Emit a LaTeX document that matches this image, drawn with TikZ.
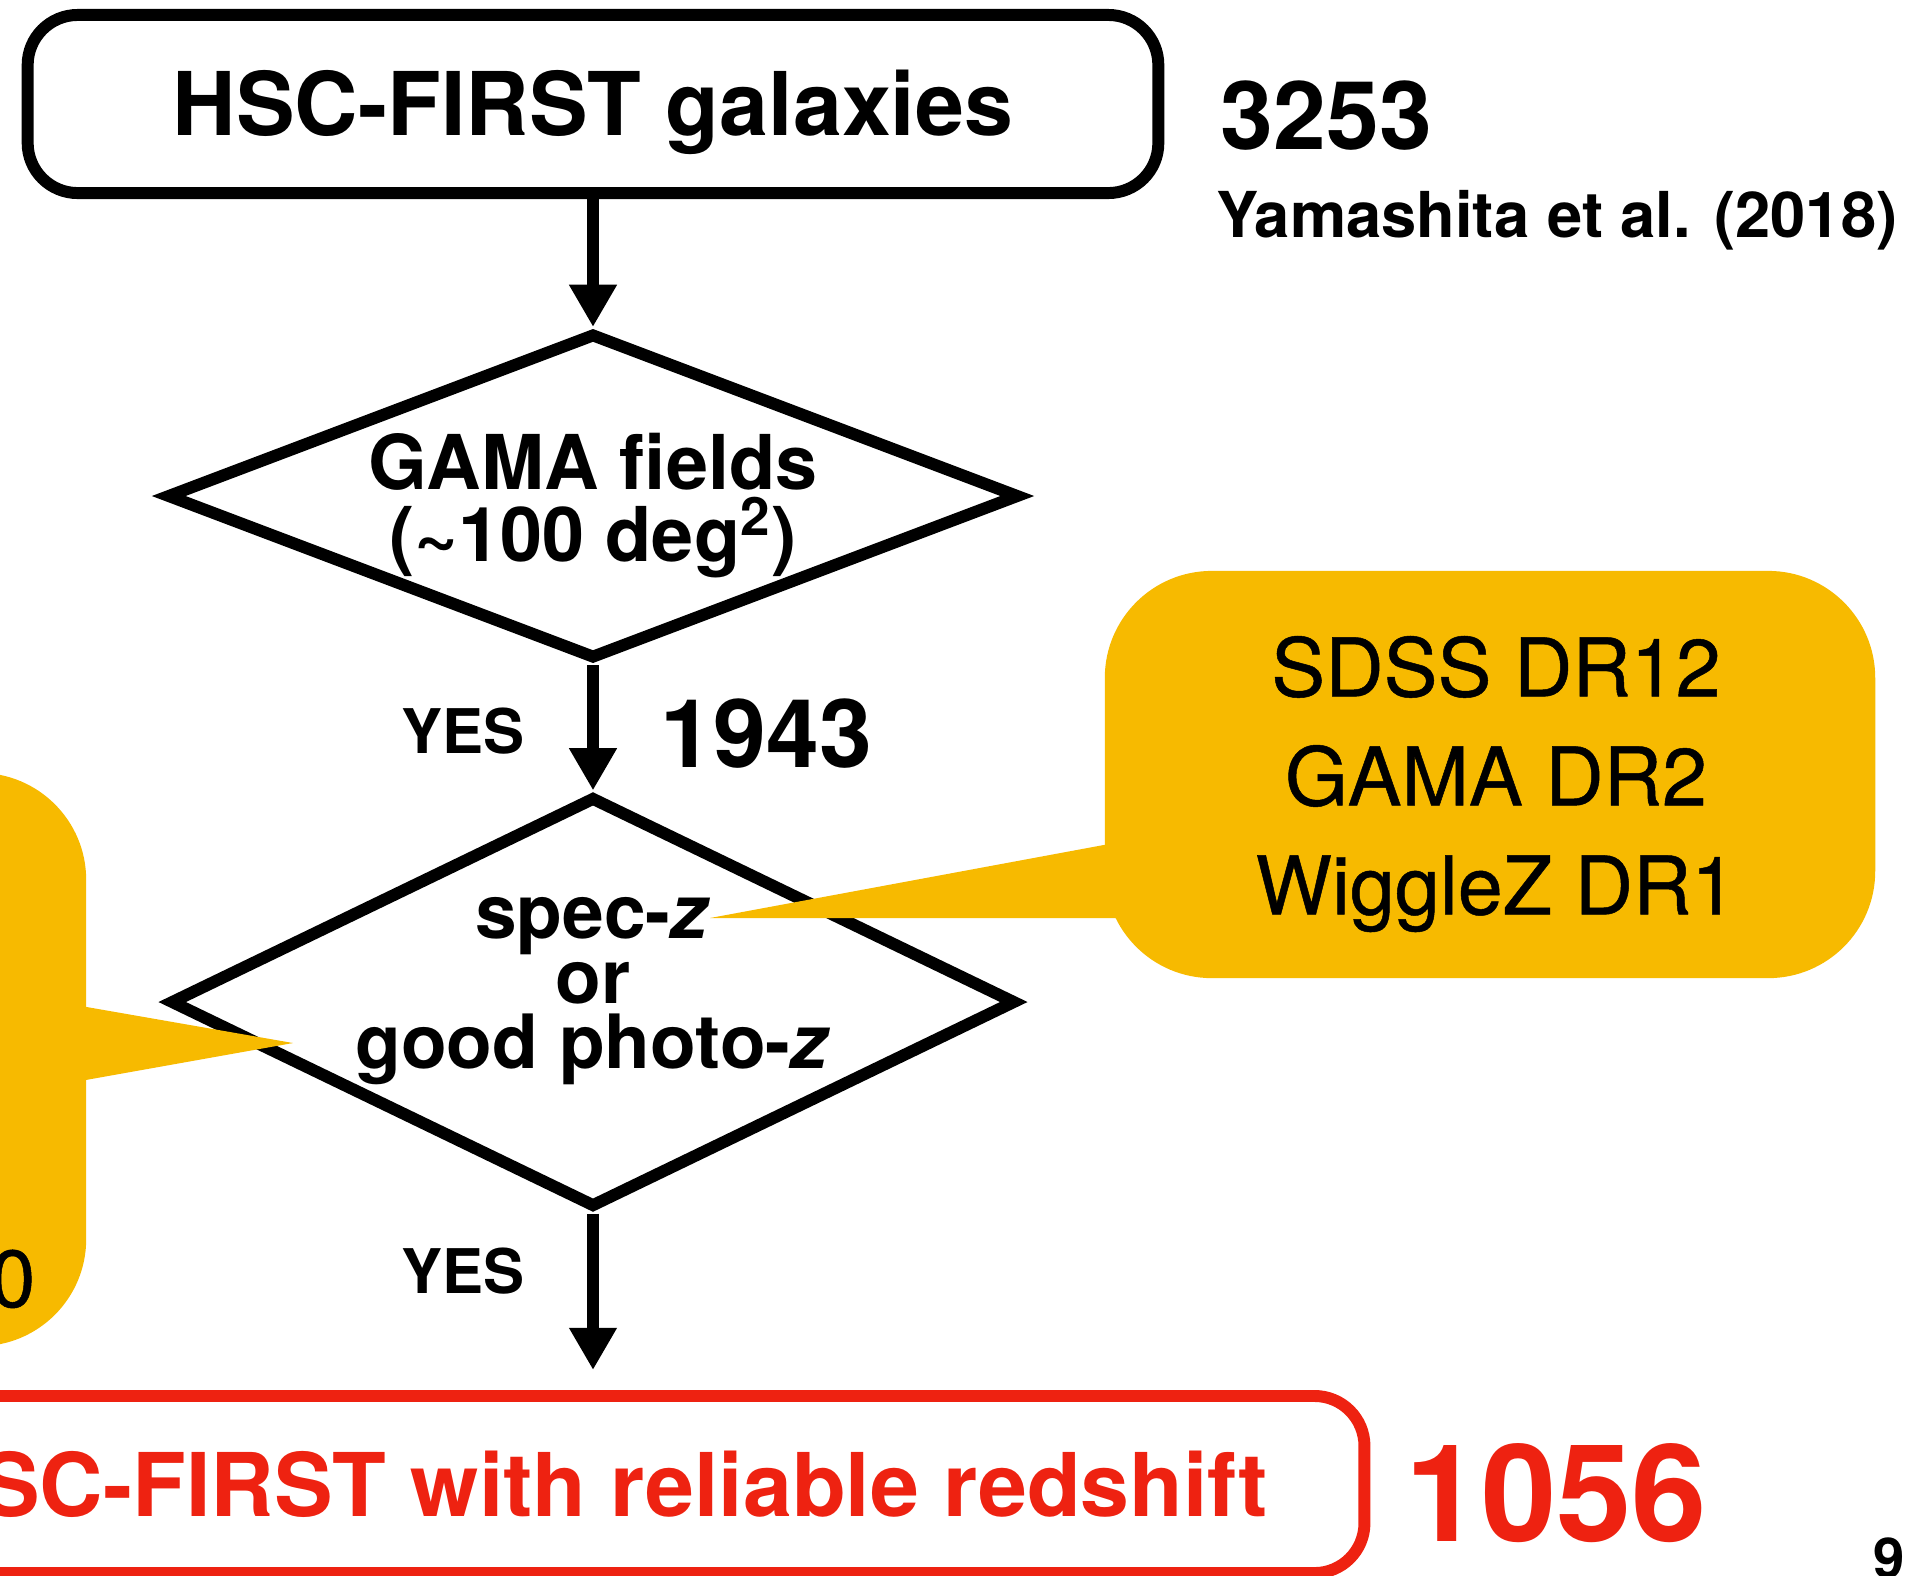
\documentclass[tikz,border=0pt]{standalone}
\usepackage{fontspec}
\setmainfont{TeX Gyre Heros}
\newfontfamily\calloutfont[FakeBold=0.6]{TeX Gyre Heros}
\usepackage{tikz}
\usetikzlibrary{arrows.meta,shapes.geometric,positioning}
\definecolor{callout}{HTML}{F7BA00}
\definecolor{alert}{HTML}{EE2211}

\begin{document}
\begin{tikzpicture}[x=0.01cm,y=-0.01cm,>={Triangle[length=12pt,width=12.8pt]},
 box/.style={draw,line width=3.4pt,rounded corners=0.5cm,minimum width=11.3cm,minimum height=1.78cm,inner sep=0pt,text height=0.63cm,text depth=0pt,font=\bfseries\fontsize{25pt}{30pt}\selectfont},
 dec/.style={draw,diamond,line width=3.4pt,inner sep=0pt},
 dtxt/.style={align=center,font=\bfseries\fontsize{21.5pt}{20.5pt}\selectfont},
 ar/.style={->,line width=3.4pt},
 lbl/.style={anchor=base,inner sep=0pt,font=\bfseries\fontsize{17.5pt}{20pt}\selectfont},
 num/.style={anchor=base west,inner sep=0pt,font=\bfseries\fontsize{27pt}{30pt}\selectfont},
 call/.style={fill=callout,rounded corners=1.07cm,inner sep=0pt},
 ctxt/.style={align=center,font=\calloutfont\fontsize{23pt}{31pt}\selectfont}]
 \useasboundingbox (0,0) rectangle (1925,1575);
 \clip (0,0) rectangle (1925,1575);
 % flow
 \node[box] (hsc) at (593,104) {HSC-FIRST galaxies};
 \node[num] (n3253) at (1220,149) {3253};
 \node[anchor=base west,inner sep=0pt,font=\bfseries\fontsize{18pt}{22pt}\selectfont] (ref) at (1216,237) {Yamashita et al. (2018)};
 \node[dec,minimum width=8.53cm,minimum height=3.26cm] (gama) at (593,496) {};
 \node[dtxt] (gamatxt) at (593,506) {GAMA fields\\(\textasciitilde100 deg\textsuperscript{2})};
 \node[dec,minimum width=8.46cm,minimum height=4.11cm] (spec) at (593,1002) {};
 \node[dtxt,font=\bfseries\fontsize{21.3pt}{18.5pt}\selectfont] (spectxt) at (593,991) {spec-\textit{z}\\or\\good photo-\textit{z}};
 \node[box,draw=alert,text=alert,minimum width=15.42cm,minimum height=1.77cm] (result) at (593,1484.5) {HSC-FIRST with reliable redshift};
 \node[anchor=base west,inner sep=0pt,text=alert,font=\bfseries\fontsize{38.5pt}{40pt}\selectfont] (n1056) at (1405,1541) {1056};
 \draw[ar] (hsc) -- (gama);
 \draw[ar] (gama) -- (spec);
 \draw[ar,shorten >=0.2cm] (spec) -- (result);
 \node[lbl] (yes1) at (463,753) {YES};
 \node[num] (n1943) at (660,767) {1943};
 \node[lbl] (yes2) at (463,1293) {YES};
 % callouts
 \node[call,minimum width=7.7cm,minimum height=4.07cm] (surveys) at (1490,774.5) {};
 \coordinate (tipR) at (710,918);
 \fill[callout] ([shift={(40,63)}]surveys.west) -- (tipR) -- ([shift={(40,143.5)}]surveys.west) -- cycle;
 \node[ctxt] (surveystxt) at (1496,784) {SDSS DR12\\GAMA DR2\\WiggleZ DR1};
 \node[call,minimum width=7cm,minimum height=5.73cm] (photoz) at (-264,1059.5) {};
 \coordinate (tipL) at (293,1043);
 \fill[callout] ([shift={(-46,-60.5)}]photoz.east) -- (tipL) -- ([shift={(-46,28.5)}]photoz.east) -- cycle;
 \node[anchor=base east,inner sep=0pt,font=\calloutfont\fontsize{23pt}{31pt}\selectfont] (zlim) at (36,1307) {0};
 \node[anchor=base west,inner sep=0pt,font=\bfseries\fontsize{16pt}{18pt}\selectfont] (page) at (1873,1578) {9};
\end{tikzpicture}
\end{document}
